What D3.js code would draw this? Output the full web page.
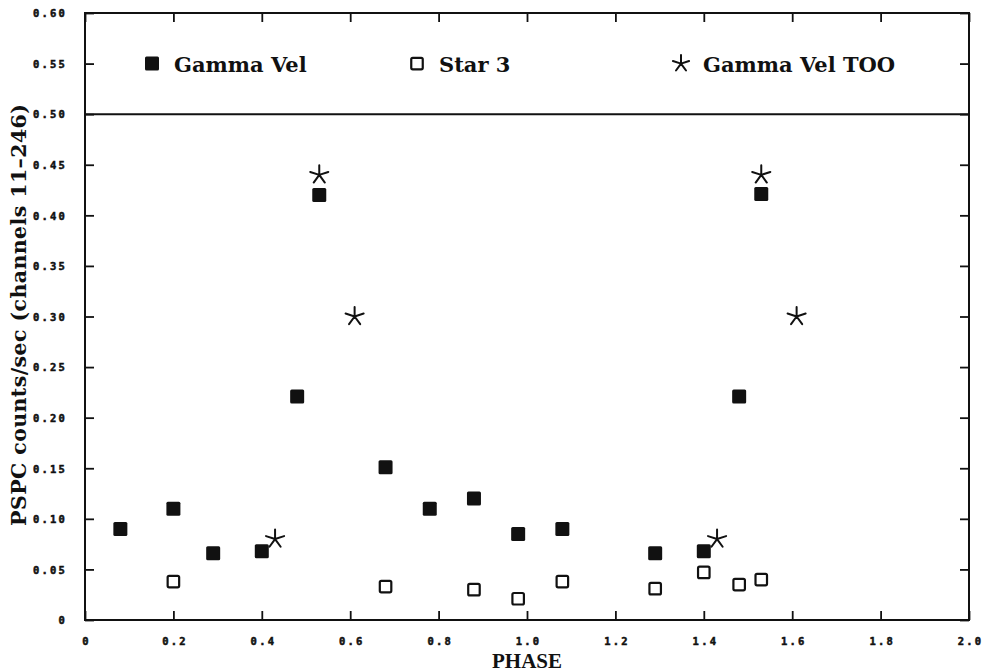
<!DOCTYPE html>
<html>
<head>
<meta charset="utf-8">
<script src="https://cdn.jsdelivr.net/npm/d3@7"></script>
<style>
  body { margin: 0; background: #fff; }
  svg { display: block; }
  .tick-label { font-family: "DejaVu Sans Mono", monospace; font-weight: bold; font-size: 10.5px; letter-spacing: 2.2px; fill: #111; stroke: #111; stroke-width: 0.5px; }
  .serif-label { font-family: "DejaVu Serif", serif; font-weight: bold; fill: #111; }
</style>
</head>
<body>
<svg id="chart" width="987" height="672"></svg>
<script>
// Gamma Vel (filled squares)
const gammaPhase = [0.08, 0.20, 0.29, 0.40, 0.48, 0.53, 0.68, 0.78, 0.88, 0.98, 1.08, 1.29, 1.40, 1.48, 1.53];
const gammaRate  = [0.090, 0.110, 0.066, 0.068, 0.221, 0.420, 0.151, 0.110, 0.120, 0.085, 0.090, 0.066, 0.068, 0.221, 0.421];

// Star 3 (open squares)
const star3Phase = [0.20, 0.68, 0.88, 0.98, 1.08, 1.29, 1.40, 1.48, 1.53];
const star3Rate  = [0.038, 0.033, 0.030, 0.021, 0.038, 0.031, 0.047, 0.035, 0.040];

// Gamma Vel TOO (stars)
const tooPhase = [0.43, 0.53, 0.61, 1.43, 1.53, 1.61];
const tooRate  = [0.080, 0.440, 0.300, 0.080, 0.440, 0.300];

const xTicks = [0, 0.2, 0.4, 0.6, 0.8, 1.0, 1.2, 1.4, 1.6, 1.8, 2.0];
const yTicks = [0, 0.05, 0.10, 0.15, 0.20, 0.25, 0.30, 0.35, 0.40, 0.45, 0.50, 0.55, 0.60];
const legendLine = 0.50;

const svg = d3.select('#chart');
const margin = {top: 13, right: 18, bottom: 52, left: 85};
const width = +svg.attr('width') - margin.left - margin.right;
const height = +svg.attr('height') - margin.top - margin.bottom;
const g = svg.append('g').attr('transform', 'translate(' + margin.left + ',' + margin.top + ')');

const x = d3.scaleLinear().domain([0, 2.0]).range([0, width]);
const y = d3.scaleLinear().domain([0, 0.60]).range([height, 0]);

const fmtX = d => d === 0 ? '0' : d3.format('.1f')(d);
const fmtY = d => d === 0 ? '0' : d3.format('.2f')(d);

// axes: inward ticks on all four sides
const tickLen = 9;
const xAxis = g.append('g').attr('transform', 'translate(0,' + height + ')')
  .call(d3.axisBottom(x).tickValues(xTicks).tickSize(-tickLen).tickPadding(tickLen + 9).tickFormat(fmtX));
g.append('g')
  .call(d3.axisTop(x).tickValues(xTicks).tickSize(-tickLen).tickFormat(''));
const yAxis = g.append('g')
  .call(d3.axisLeft(y).tickValues(yTicks).tickSize(-tickLen).tickPadding(tickLen + 9).tickFormat(fmtY));
g.append('g').attr('transform', 'translate(' + width + ',0)')
  .call(d3.axisRight(y).tickValues(yTicks).tickSize(-tickLen).tickFormat(''));

g.selectAll('.domain').remove();
g.selectAll('.tick line').attr('stroke', '#111').attr('stroke-width', 1.8);
g.selectAll('.tick text').attr('class', 'tick-label').attr('fill', null);
xAxis.selectAll('.tick text').attr('dx', '1.1px');
yAxis.selectAll('.tick text').attr('dy', '0.36em');

// frame and legend separator
g.append('rect')
  .attr('width', width).attr('height', height)
  .attr('fill', 'none').attr('stroke', '#111').attr('stroke-width', 2);
g.append('line')
  .attr('x1', 0).attr('x2', width)
  .attr('y1', y(legendLine)).attr('y2', y(legendLine))
  .attr('stroke', '#111').attr('stroke-width', 2);

// star path: five-armed asterisk
function starPath(r) {
  let p = '';
  for (let k = 0; k < 5; k++) {
    const a = (-90 + 72 * k) * Math.PI / 180;
    p += 'M0,0L' + (r * Math.cos(a)).toFixed(2) + ',' + (r * Math.sin(a)).toFixed(2);
  }
  return p;
}

function drawFilled(sel, size) {
  sel.append('rect')
    .attr('x', -size / 2).attr('y', -size / 2)
    .attr('width', size).attr('height', size)
    .attr('rx', 1.5).attr('fill', '#111');
}
function drawOpen(sel, size) {
  sel.append('rect')
    .attr('x', -size / 2).attr('y', -size / 2)
    .attr('width', size).attr('height', size)
    .attr('rx', 1.5).attr('fill', 'none').attr('stroke', '#111').attr('stroke-width', 2.2);
}
function drawStar(sel, r) {
  sel.append('path').attr('d', starPath(r))
    .attr('fill', 'none').attr('stroke', '#111').attr('stroke-width', 2).attr('stroke-linecap', 'round');
}

// data points
const gammaData = gammaPhase.map((p, i) => [p, gammaRate[i]]);
const star3Data = star3Phase.map((p, i) => [p, star3Rate[i]]);
const tooData = tooPhase.map((p, i) => [p, tooRate[i]]);

g.selectAll('.star3').data(star3Data).enter().append('g')
  .attr('class', 'star3')
  .attr('transform', d => 'translate(' + x(d[0]) + ',' + y(d[1]) + ')')
  .call(drawOpen, 11.5);

g.selectAll('.gamma').data(gammaData).enter().append('g')
  .attr('class', 'gamma')
  .attr('transform', d => 'translate(' + x(d[0]) + ',' + y(d[1]) + ')')
  .call(drawFilled, 14);

g.selectAll('.too').data(tooData).enter().append('g')
  .attr('class', 'too')
  .attr('transform', d => 'translate(' + x(d[0]) + ',' + y(d[1]) + ')')
  .call(drawStar, 9.5);

// legend
const legendItems = [
  {label: 'Gamma Vel', px: 67, draw: s => drawFilled(s, 14)},
  {label: 'Star 3', px: 332, draw: s => drawOpen(s, 11.5)},
  {label: 'Gamma Vel TOO', px: 596, draw: s => drawStar(s, 8.5)}
];
const legend = g.selectAll('.legend-item').data(legendItems).enter().append('g')
  .attr('class', 'legend-item')
  .attr('transform', d => 'translate(' + d.px + ',' + y(0.55) + ')');
legend.each(function(d) { d.draw(d3.select(this)); });
legend.append('text')
  .attr('class', 'serif-label')
  .attr('x', 22).attr('y', 8)
  .style('font-size', '21px')
  .text(d => d.label);

// axis titles
g.append('text')
  .attr('x', width / 2).attr('y', height + 48)
  .style('font-family', '"Liberation Serif", serif')
  .style('font-weight', 'bold')
  .style('font-size', '21px')
  .style('fill', '#111')
  .style('text-anchor', 'middle')
  .text('PHASE');

g.append('text')
  .attr('class', 'serif-label')
  .attr('transform', 'rotate(-90)')
  .attr('x', -(y(0.093) + y(0.51)) / 2)
  .attr('y', -margin.left + 26)
  .attr('textLength', y(0.093) - y(0.51))
  .attr('lengthAdjust', 'spacing')
  .style('font-size', '20.5px')
  .style('text-anchor', 'middle')
  .text('PSPC counts/sec (channels 11\u2013246)');
</script>
</body>
</html>
